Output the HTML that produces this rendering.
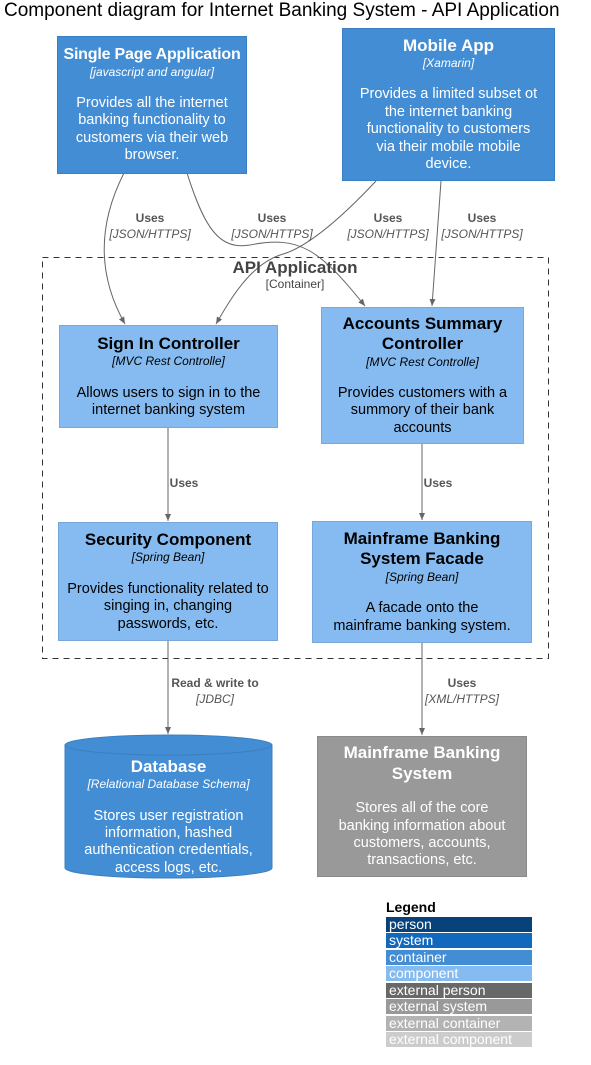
<!DOCTYPE html>
<html><head><meta charset="utf-8"><style>
body{margin:0;width:591px;height:1065px;background:#fff;font-family:"Liberation Sans",sans-serif;position:relative;overflow:hidden}
.b{position:absolute;box-sizing:border-box;text-align:center;display:flex;flex-direction:column;justify-content:center;align-items:center;line-height:1.2;padding:0 8px}
.c{background:#438DD5;border:1px solid #3C7FC0;color:#fff}
.p{background:#85BBF0;border:1px solid #78A8D8;color:#000}
.g{background:#999;border:1px solid #8A8A8A;color:#fff}
.t{font-weight:bold;font-size:17px}
.k{font-style:italic;font-size:12px;margin-bottom:16px}
.d{font-size:14.5px}
.l{position:absolute;font-size:12px;color:#555;text-align:center;line-height:1.3}
.l b{display:block}
.l i{display:block}
.lg{position:absolute;left:386px;width:146px;height:15px;font-size:14px;color:#fff;line-height:15px;padding-left:3px;box-sizing:border-box}
</style></head><body>
<div style="position:absolute;left:4px;top:0px;font-size:19px;white-space:nowrap">Component diagram for Internet Banking System - API Application</div>
<svg width="591" height="1065" style="position:absolute;left:0;top:0">
<defs><marker id="a" markerWidth="8" markerHeight="8" refX="7" refY="4" orient="auto"><path d="M0,1 L7,4 L0,7 Z" fill="#666"/></marker></defs>
<rect x="42.5" y="257.5" width="506" height="401" fill="none" stroke="#333" stroke-dasharray="6,5"/>
<g fill="none" stroke="#666" stroke-width="1">
<path d="M124,173 C95,230 100,280 125,324" marker-end="url(#a)"/>
<path d="M187,173 C205,230 220,250 250,245 C300,235 320,250 365,306" marker-end="url(#a)"/>
<path d="M376,181 C330,230 300,250 280,255 C250,265 230,300 216,324" marker-end="url(#a)"/>
<path d="M441,181 L432,306" marker-end="url(#a)"/>
<path d="M168,427 L168,521" marker-end="url(#a)"/>
<path d="M422,443 L422,520" marker-end="url(#a)"/>
<path d="M168,640 L168,734" marker-end="url(#a)"/>
<path d="M422,642 L422,735" marker-end="url(#a)"/>
</g>
<path d="M65,745 A103.5,10 0 0 1 272,745 L272,868 A103.5,10 0 0 1 65,868 Z" fill="#438DD5" stroke="#3C7FC0"/>
<path d="M65,745 A103.5,10 0 0 0 272,745" fill="none" stroke="#3C7FC0"/>
</svg>
<div class="b c" style="left:57px;top:36px;width:190px;height:138px;padding:0 16px"><div class="t" style="font-size:16px;white-space:nowrap;letter-spacing:-0.2px">Single Page Application</div><div class="k">[javascript and angular]</div><div class="d">Provides all the internet banking functionality to customers via their web browser.</div></div>
<div class="b c" style="left:342px;top:28px;width:213px;height:153px;padding:0 14px"><div class="t">Mobile App</div><div class="k">[Xamarin]</div><div class="d">Provides a limited subset ot the internet banking functionality to customers via their mobile mobile device.</div></div>
<div class="l" style="left:100px;top:211px;width:100px"><b>Uses</b><i>[JSON/HTTPS]</i></div>
<div class="l" style="left:222px;top:211px;width:100px"><b>Uses</b><i>[JSON/HTTPS]</i></div>
<div class="l" style="left:338px;top:211px;width:100px"><b>Uses</b><i>[JSON/HTTPS]</i></div>
<div class="l" style="left:432px;top:211px;width:100px"><b>Uses</b><i>[JSON/HTTPS]</i></div>
<div style="position:absolute;left:195px;top:259px;width:200px;text-align:center;color:#444;line-height:1.1"><div style="font-weight:bold;font-size:17px">API Application</div><div style="font-size:12px">[Container]</div></div>
<div class="b p" style="left:59px;top:325px;width:219px;height:103px"><div class="t">Sign In Controller</div><div class="k">[MVC Rest Controlle]</div><div class="d">Allows users to sign in to the internet banking system</div></div>
<div class="b p" style="left:321px;top:307px;width:203px;height:137px"><div class="t">Accounts Summary Controller</div><div class="k">[MVC Rest Controlle]</div><div class="d">Provides customers with a summory of their bank accounts</div></div>
<div class="l" style="left:159px;top:476px;width:50px"><b>Uses</b></div>
<div class="l" style="left:413px;top:476px;width:50px"><b>Uses</b></div>
<div class="b p" style="left:58px;top:522px;width:220px;height:119px"><div class="t">Security Component</div><div class="k">[Spring Bean]</div><div class="d">Provides functionality related to singing in, changing passwords, etc.</div></div>
<div class="b p" style="left:312px;top:521px;width:220px;height:122px;padding:0 20px"><div class="t">Mainframe Banking System Facade</div><div class="k">[Spring Bean]</div><div class="d">A facade onto the mainframe banking system.</div></div>
<div class="l" style="left:160px;top:676px;width:110px"><b>Read &amp; write to</b><i>[JDBC]</i></div>
<div class="l" style="left:407px;top:676px;width:110px"><b>Uses</b><i>[XML/HTTPS]</i></div>
<div class="b" style="left:65px;top:757px;width:207px;height:120px;color:#fff"><div class="t">Database</div><div class="k">[Relational Database Schema]</div><div class="d">Stores user registration information, hashed authentication credentials, access logs, etc.</div></div>
<div class="b g" style="left:317px;top:736px;width:210px;height:141px;padding:0 14px"><div class="t">Mainframe Banking System</div><div class="d" style="margin-top:16px">Stores all of the core banking information about customers, accounts, transactions, etc.</div></div>
<div style="position:absolute;left:386px;top:899px;font-weight:bold;font-size:14px">Legend</div>
<div class="lg" style="top:917px;background:#08427B">person</div>
<div class="lg" style="top:933px;background:#1168BD">system</div>
<div class="lg" style="top:950px;background:#438DD5">container</div>
<div class="lg" style="top:966px;background:#85BBF0">component</div>
<div class="lg" style="top:983px;background:#686868">external person</div>
<div class="lg" style="top:999px;background:#999999">external system</div>
<div class="lg" style="top:1016px;background:#B3B3B3">external container</div>
<div class="lg" style="top:1032px;background:#CCCCCC">external component</div>
</body></html>
